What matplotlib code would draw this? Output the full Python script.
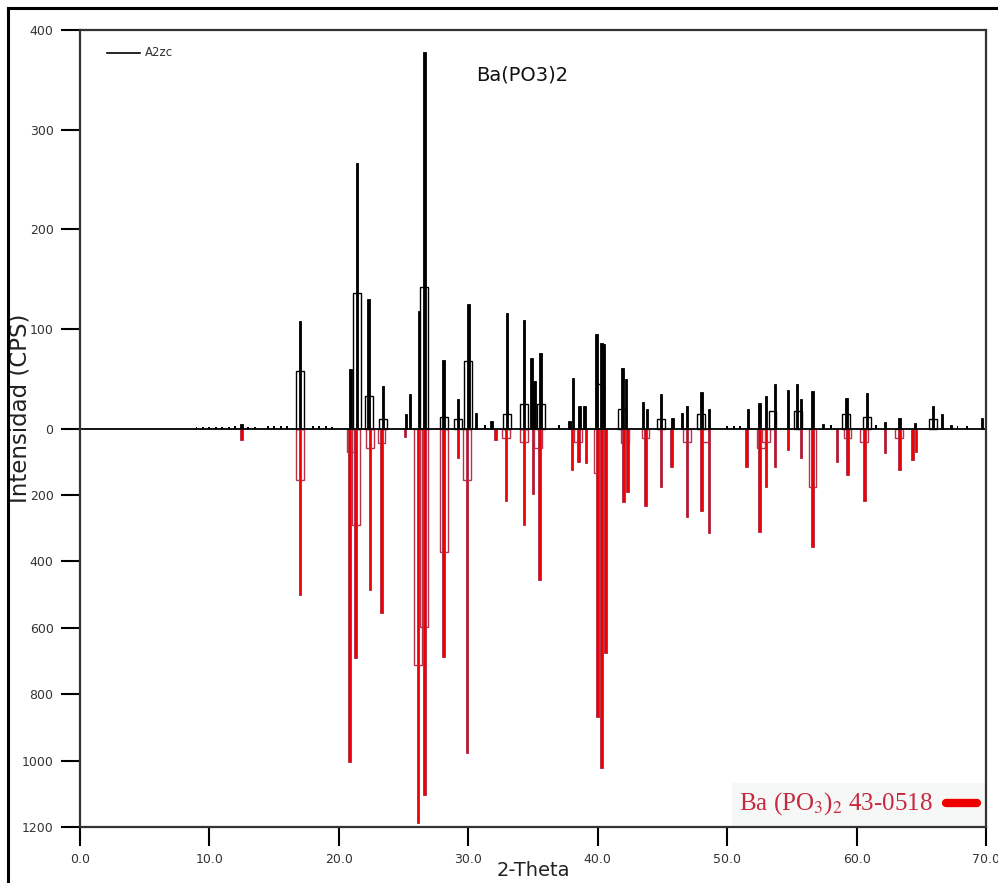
import matplotlib
matplotlib.use("Agg")
import matplotlib.pyplot as plt
from matplotlib.patches import Rectangle
from matplotlib.lines import Line2D
import numpy as np

# --- muestra A2zc (CPS, eje superior)
muestra_pos = [12.5, 17.0, 20.9, 21.4, 22.3, 23.4, 25.2, 25.5, 26.2, 26.6,
               28.1, 29.2, 30.0, 30.6, 31.8, 33.0, 34.3, 34.9, 35.1, 35.6,
               37.8, 38.1, 38.6, 39.0, 39.9, 40.3, 40.5, 41.9, 42.2, 43.5,
               43.8, 44.9, 45.8, 46.5, 46.9, 48.0, 48.6, 51.6, 52.5, 53.0,
               53.7, 54.7, 55.4, 55.7, 56.6, 57.4, 59.2, 60.8, 62.2, 63.3,
               64.5, 65.9, 66.6, 67.3, 69.7]
muestra_int = [5, 108, 60, 266, 130, 43, 15, 35, 118, 378,
               69, 30, 125, 16, 8, 116, 109, 71, 48, 76,
               8, 51, 23, 23, 95, 86, 85, 61, 50, 27,
               20, 35, 11, 16, 23, 37, 20, 20, 26, 33,
               45, 39, 45, 30, 38, 5, 31, 36, 7, 11,
               6, 23, 15, 4, 11]
# escalones (hombros) visibles alrededor de los picos
muestra_esc_pos = [17.0, 21.4, 22.3, 23.4, 26.6, 28.1, 29.2, 30.0, 33.0, 34.3,
                   35.6, 40.2, 41.9, 44.9, 48.0, 53.5, 55.5, 59.2, 60.8, 65.9]
muestra_esc_int = [58, 136, 33, 10, 142, 12, 10, 68, 15, 25,
                   25, 45, 20, 10, 15, 18, 18, 15, 12, 10]
# ruido de fondo a bajo angulo
ruido_pos = [9.0, 9.5, 10.0, 10.5, 11.0, 11.5, 12.0, 13.0, 13.5, 14.5, 15.0, 15.5, 16.0,
             18.0, 18.5, 19.0, 19.5, 31.3, 37.0, 50.0, 50.5, 51.0, 58.0, 61.5, 67.8, 68.5]
ruido_int = [2, 2, 2, 2, 2, 2, 3, 2, 2, 3, 3, 3, 3,
             3, 3, 3, 2, 4, 4, 3, 3, 3, 4, 4, 3, 3]

# --- patron de referencia Ba(PO3)2 43-0518 (eje inferior, 0..1200)
ref_pos = [12.5, 17.0, 20.8, 21.3, 22.4, 23.3, 25.1, 26.1, 26.6, 28.1,
           29.2, 29.9, 32.1, 32.9, 34.3, 35.0, 35.5, 38.0, 38.5, 39.1,
           40.0, 40.3, 40.6, 42.0, 42.3, 43.7, 44.9, 45.7, 46.9, 48.0,
           48.6, 51.5, 52.5, 53.0, 53.7, 54.7, 55.7, 56.6, 58.5, 59.3,
           60.6, 62.2, 63.3, 64.3, 64.6]
ref_int = [36, 502, 1005, 692, 487, 557, 27, 1188, 1104, 688,
           90, 978, 36, 217, 292, 196, 457, 126, 102, 105,
           869, 1023, 677, 222, 190, 234, 177, 117, 267, 247,
           316, 117, 312, 177, 117, 66, 90, 357, 102, 141,
           217, 75, 126, 96, 70]
ref_esc_pos = [17.0, 20.9, 21.3, 22.4, 23.3, 26.1, 26.6, 28.1, 29.9, 32.9,
               34.3, 35.4, 38.5, 40.0, 40.3, 42.1, 43.7, 46.9, 48.3, 52.6,
               53.0, 56.6, 59.3, 60.6, 63.3]
ref_esc_int = [156, 72, 292, 60, 45, 713, 598, 373, 156, 30,
               40, 60, 40, 135, 297, 45, 30, 40, 40, 60,
               40, 177, 30, 40, 30]

y_ticks_sup = [0, 100, 200, 300, 400]
y_ticks_inf = [200, 400, 600, 800, 1000, 1200]
x_ticks = np.arange(0, 71, 10)

ESC = 3.0  # 1200 del eje inferior ocupa lo mismo que 400 del superior

fig = plt.figure(figsize=(9.98, 8.83), dpi=100)
ax = fig.add_axes([80 / 998, 1 - 827 / 883, 906 / 998, 797 / 883])

# muestra
ax.bar(ruido_pos, ruido_int, width=0.15, color="black", linewidth=0)
ax.bar(muestra_esc_pos, muestra_esc_int, width=0.6, fill=False,
       edgecolor="black", linewidth=1.0)
ax.bar(muestra_pos, muestra_int, width=0.2, color="black",
       edgecolor="black", linewidth=0.6)

# referencia (hacia abajo)
ref_y = [-v / ESC for v in ref_int]
ref_esc_y = [-v / ESC for v in ref_esc_int]
ax.bar(ref_esc_pos, ref_esc_y, width=0.6, fill=False,
       edgecolor="#b8324a", linewidth=1.0)
ax.bar(ref_pos, ref_y, width=0.2, color="#f00000",
       edgecolor="#b8324a", linewidth=0.7)

ax.axhline(0, color="black", linewidth=1.3)

ax.set_xlim(0, 70)
ax.set_ylim(-400, 400)
yt = [-v / ESC for v in y_ticks_inf[::-1]] + y_ticks_sup
yl = [str(v) for v in y_ticks_inf[::-1]] + [str(v) for v in y_ticks_sup]
ax.set_yticks(yt)
ax.set_yticklabels(yl)
ax.set_xticks(x_ticks)
ax.set_xticklabels([f"{v:.1f}" for v in x_ticks])
ax.tick_params(axis="both", direction="out", length=14, width=1.5,
               labelsize=9, labelcolor="#333333", pad=5)
for s in ax.spines.values():
    s.set_linewidth(1.6)
    s.set_color("#333333")

ax.set_ylabel("Intensidad (CPS)", fontsize=16.5, color="#222222")
ax.set_xlabel("2-Theta", fontsize=14, color="#222222")
ax.yaxis.set_label_coords(-0.054, 0.525)
ax.xaxis.set_label_coords(0.5, -0.043)

# leyenda muestra
ax.add_line(Line2D([2.1, 4.6], [377, 377], color="black", linewidth=1.2))
ax.text(5.0, 377, "A2zc", fontsize=8.5, va="center", color="#333333")
ax.text(30.6, 355, "Ba(PO3)2", fontsize=14, va="center", color="#111111")

# etiqueta referencia
ax.add_patch(Rectangle((50.4, -399), 19.5, 43, facecolor="#f6f8f8",
                       edgecolor="none", zorder=0))
ax.text(50.9, -376, "Ba (PO$_3$)$_2$ 43-0518", fontsize=18,
        family="Liberation Serif", color="#c8283e", va="center",
        math_fontfamily="stix")
ax.add_line(Line2D([66.9, 69.3], [-376, -376], color="#ee0000",
                   linewidth=6, solid_capstyle="round"))

# marco de la figura (izq. y arriba)
fig.add_artist(Line2D([8 / 998, 8 / 998], [0, 1 - 8 / 883], color="black",
                      linewidth=2.2, transform=fig.transFigure))
fig.add_artist(Line2D([8 / 998, 1], [1 - 8 / 883, 1 - 8 / 883], color="black",
                      linewidth=2.2, transform=fig.transFigure))

fig.savefig("out.png", dpi=100)
